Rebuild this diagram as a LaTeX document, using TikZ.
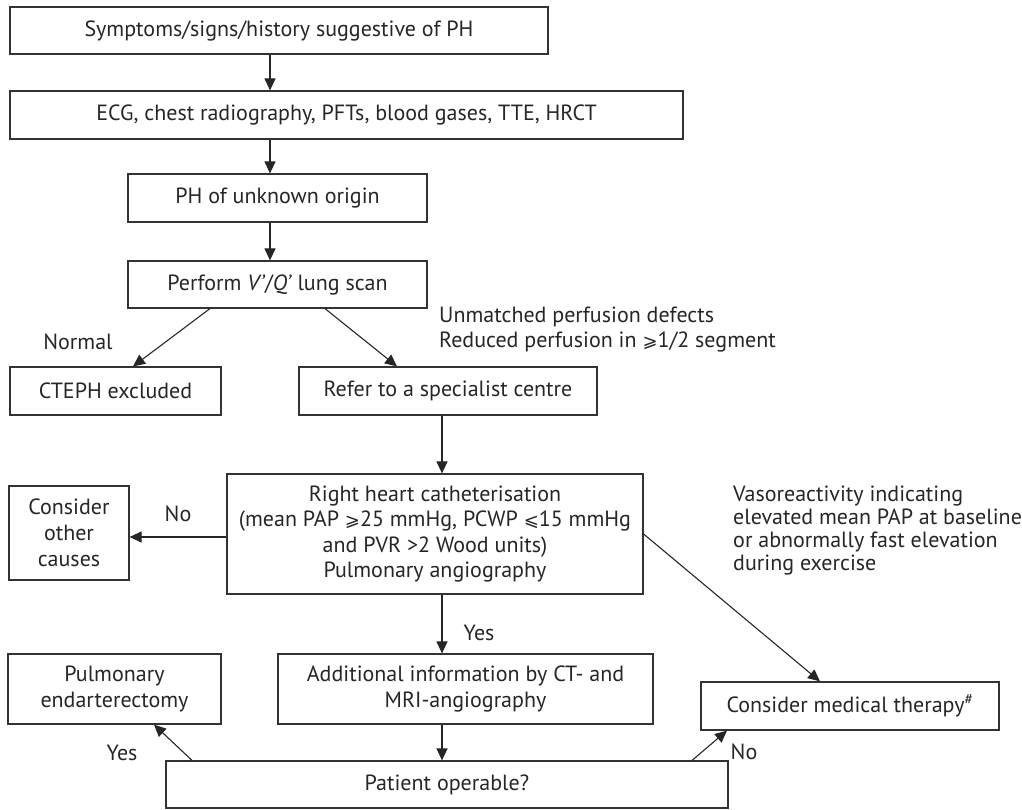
\documentclass[tikz,border=0pt]{standalone}
\usepackage{amsmath}
\usepackage{fontspec}
\setmainfont{PT Sans}
\newfontfamily\symfont{DejaVu Sans}
\newcommand{\geqsl}{{\symfont\fontsize{18}{18}\selectfont ⩾}}
\newcommand{\leqsl}{{\symfont\fontsize{18}{18}\selectfont ⩽}}
\usetikzlibrary{arrows.meta,calc}

\begin{document}
\begin{tikzpicture}[x=1pt,y=-1pt,
  box/.style={draw=black!80,line width=1.2pt,align=center,inner sep=0pt,text=black!85,font=\fontsize{22}{25.5}\selectfont},
  lbl/.style={text=black!85,inner sep=0pt,font=\fontsize{22}{25}\selectfont},
  arr/.style={draw=black!85,line width=1.1pt,-{Triangle[length=12pt,width=11pt]}}]
\useasboundingbox (0,0) rectangle (1022,809);
\node[box,minimum width=538,minimum height=47] (sympt) at (279,30.5) {Symptoms/signs/history suggestive of PH};
\node[box,minimum width=673,minimum height=48] (ecg) at (346.5,115) {ECG, chest radiography, PFTs, blood gases, TTE, HRCT};
\node[box,minimum width=299,minimum height=48] (origin) at (277.5,198) {PH of unknown origin};
\node[box,minimum width=299,minimum height=47] (scan) at (277.5,284.5) {Perform \textit{V'}/\textit{Q'} lung scan};
\node[box,minimum width=211,minimum height=48] (excl) at (115.5,391) {CTEPH excluded};
\node[box,minimum width=298,minimum height=48] (refer) at (448,391) {Refer to a specialist centre};
\node[box,minimum width=416,minimum height=120] (rhc) at (435,534) {Right heart catheterisation\\(mean PAP \geqsl25 mmHg, PCWP \leqsl15 mmHg\\and PVR >2 Wood units)\\Pulmonary angiography};
\node[box,minimum width=120,minimum height=94,font=\fontsize{22}{26}\selectfont] (other) at (69,533) {Consider\\other\\causes};
\node[box,minimum width=213,minimum height=70] (endart) at (114.5,689) {Pulmonary\\endarterectomy};
\node[box,minimum width=375,minimum height=70] (addinfo) at (465.5,689) {Additional information by CT- and\\MRI-angiography};
\node[box,minimum width=298,minimum height=48] (medic) at (850,706) {Consider medical therapy\textsuperscript{\#}};
\node[box,minimum width=562,minimum height=47] (oper) at (447,784.5) {Patient operable?};
\node[lbl] (normal) at (78,342) {Normal};
\node[lbl,anchor=west,align=left] (unmatch) at (439,329.5) {Unmatched perfusion defects\\Reduced perfusion in \geqsl1/2 segment};
\node[lbl] (nocause) at (178,514) {No};
\node[lbl,anchor=west,align=left,font=\fontsize{22}{23}\selectfont] (vaso) at (733,531) {Vasoreactivity indicating\\elevated mean PAP at baseline\\or abnormally fast elevation\\during exercise};
\node[lbl] (yesrhc) at (479,633) {Yes};
\node[lbl] (yesop) at (122,753) {Yes};
\node[lbl] (noop) at (744,752) {No};
\draw[arr] ([xshift=-7.5]origin.north |- sympt.south) -- ([xshift=-7.5]origin.north |- ecg.north);
\draw[arr] ([xshift=-7.5]origin.north |- ecg.south) -- ([xshift=-7.5]origin.north);
\draw[arr] ([xshift=-7.5]origin.south) -- ([xshift=-7.5]scan.north);
\draw[arr] ([xshift=-67.5]scan.south) -- ([xshift=17.5]excl.north);
\draw[arr] ([xshift=47.5]scan.south) -- ([xshift=-51]refer.north);
\draw[arr] ([xshift=-6]refer.south) -- ([xshift=-6]refer.south |- rhc.north);
\draw[arr] ([yshift=-3]rhc.west) -- ([yshift=-3]rhc.west -| other.east);
\draw[arr] (rhc.east) -- ([xshift=-30]medic.north);
\draw[arr] ([xshift=7]rhc.south) -- ([xshift=7]rhc.south |- addinfo.north);
\draw[arr] ([xshift=-5]oper.north |- addinfo.south) -- ([xshift=-5]oper.north);
\draw[arr] ([xshift=-255]oper.north) -- ([xshift=39.5]endart.south);
\draw[arr] ([xshift=245]oper.north) -- ([xshift=-123]medic.south);
\end{tikzpicture}
\end{document}
